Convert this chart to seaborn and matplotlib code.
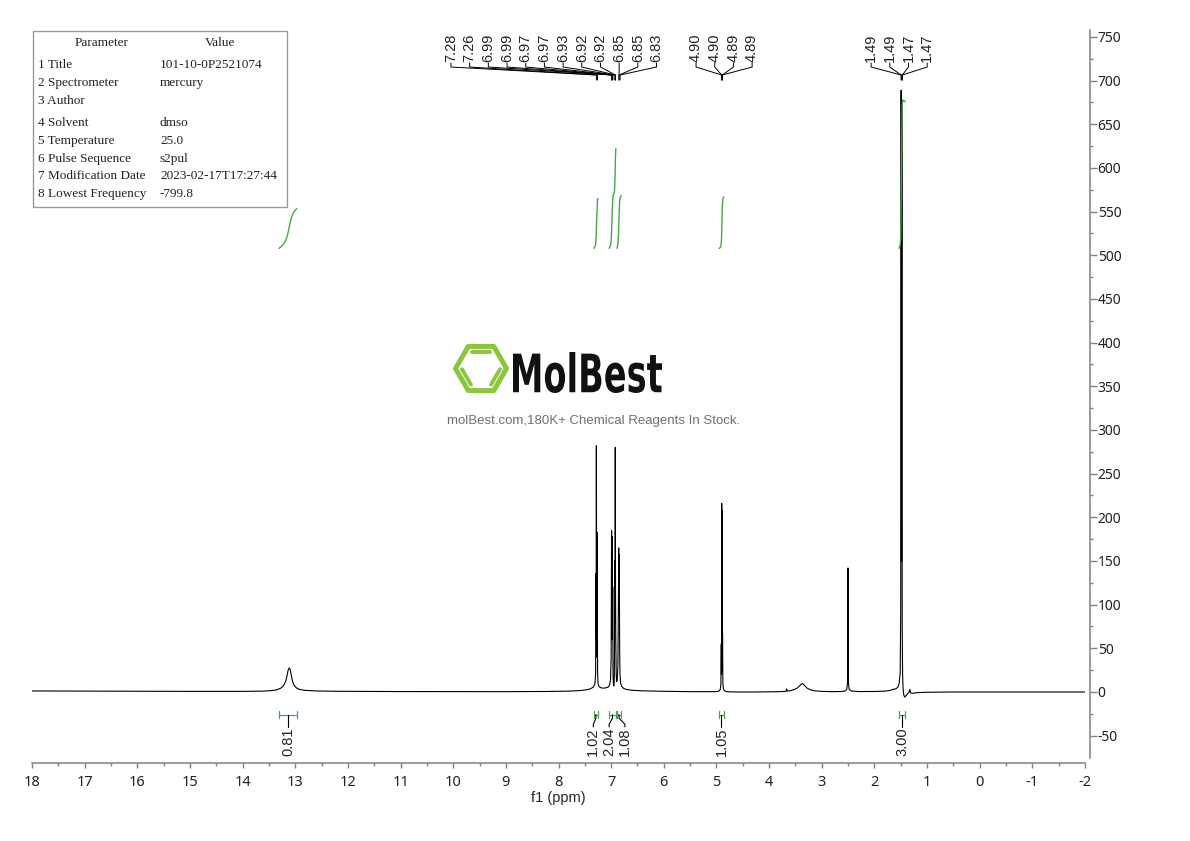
import numpy as np
import matplotlib
matplotlib.use('Agg')
import matplotlib.pyplot as plt
import seaborn as sns
from matplotlib.patches import RegularPolygon, Rectangle, PathPatch
from matplotlib.textpath import TextPath
from matplotlib.font_manager import FontProperties
from matplotlib.transforms import Affine2D

# spectrum trace (ppm, intensity)
trace_ppm = [18.0, 17.0, 16.0, 15.0, 14.0, 13.6, 13.45, 13.35, 13.27, 13.22,
             13.18, 13.155, 13.135, 13.115, 13.095, 13.075, 13.05, 13.02, 12.98, 12.92,
             12.82, 12.6, 12.2, 11.0, 10.0, 9.0, 8.2, 7.8, 7.6, 7.48, 7.40, 7.34, 7.31,
             7.295, 7.289, 7.285, 7.281, 7.274, 7.266, 7.258, 7.25, 7.23, 7.18, 7.12, 7.06, 7.03, 7.012,
             7.000, 6.992, 6.986, 6.981, 6.976, 6.970, 6.964, 6.956, 6.948, 6.942,
             6.937, 6.932, 6.927, 6.922, 6.917, 6.912, 6.904, 6.895, 6.885,
             6.872, 6.862, 6.856, 6.850, 6.845, 6.839, 6.832, 6.82, 6.80, 6.76,
             6.70, 6.60, 6.40, 6.0, 5.5, 5.1, 5.0, 4.96, 4.93,
             4.916, 4.908, 4.904, 4.900, 4.896, 4.892, 4.888, 4.884, 4.878, 4.865,
             4.84, 4.80, 4.6, 4.3, 4.0, 3.85,
             3.68, 3.665, 3.655, 3.60, 3.52, 3.46, 3.42, 3.39, 3.37, 3.35,
             3.32, 3.28, 3.22, 3.14, 3.0, 2.8, 2.62, 2.56, 2.525, 2.508,
             2.502, 2.496, 2.48, 2.44, 2.3, 2.0, 1.8, 1.70, 1.66, 1.64,
             1.62, 1.58, 1.55, 1.53, 1.51,
             1.500, 1.492, 1.485, 1.478, 1.472, 1.465, 1.455, 1.44, 1.42, 1.40,
             1.37, 1.34, 1.325, 1.31, 1.28, 1.2, 1.0, 0.5, 0.0, -1.0, -2.0]
trace_int = [1.2, 1.0, 0.8, 0.7, 0.7, 1.0, 1.6, 2.5, 4.5, 7.5,
             12.5, 19, 25, 27.5, 25.5, 19, 12, 7.5, 4.8, 3.0,
             1.9, 1.2, 0.8, 0.5, 0.4, 0.4, 0.6, 1.0, 1.6, 2.4, 3.5, 5.5, 9,
             20, 136, 60, 282, 40, 183, 25, 10, 6, 4.5, 4.5, 5.5, 8, 14,
             40, 185, 90, 178, 60, 120, 20, 8, 7, 12,
             40, 150, 120, 280, 120, 60, 20, 12, 14,
             30, 100, 165, 90, 157, 50, 20, 10, 6.5, 4,
             2.8, 2.0, 1.3, 0.8, 0.4, 0.3, 0.4, 0.8, 2.5,
             8, 55, 20, 216, 40, 208, 25, 67, 10, 3,
             1.2, 0.3, 0.0, 0.0, 0.2, 0.3,
             0.8, 3.5, 1.0, 1.5, 2.8, 4.8, 7.2, 9.0, 9.6, 9.0,
             7.0, 4.5, 2.6, 1.4, 0.7, 0.4, 0.6, 1.2, 3, 12,
             142, 12, 3, 1.2, 0.5, 0.6, 1.0, 1.8, 2.8, 3.3,
             3.0, 4.2, 6, 10, 22,
             92, 689, 150, 678, 80, 20, 4, -4, -6, -4,
             -2, 0, 3, -1, -1.5, -0.8, -0.3, 0.0, 0.0, 0.0, 0.0]

# peak picking labels, one list per multiplet
peaks_arom = [7.28, 7.26, 6.99, 6.99, 6.97, 6.97, 6.93, 6.92, 6.92, 6.85, 6.85, 6.83]
peaks_ch = [4.90, 4.90, 4.89, 4.89]
peaks_me = [1.49, 1.49, 1.47, 1.47]

# integrals
integral_start = [13.31, 7.33, 7.04, 6.89, 4.95, 1.53]
integral_end = [12.97, 7.25, 6.91, 6.81, 4.86, 1.42]
integral_value = [0.81, 1.02, 2.04, 1.08, 1.05, 3.00]

param_names = ['1 Title', '2 Spectrometer', '3 Author', '4 Solvent', '5 Temperature',
               '6 Pulse Sequence', '7 Modification Date', '8 Lowest Frequency']
param_values = ['101-10-0P2521074', 'mercury', '', 'dmso', '25.0', 's2pul',
                '2023-02-17T17:27:44', '-799.8']

x_ticks = list(range(18, -3, -1))
y_ticks = list(range(-50, 751, 50))

sns.set_style('ticks')
plt.rcParams['font.family'] = ['Noto Sans', 'DejaVu Sans']
plt.rcParams['axes.unicode_minus'] = False

GRAY = '#808080'
GREEN = '#4aa64a'

fig = plt.figure(figsize=(11.9, 8.41), dpi=100)
ax = fig.add_axes([32 / 1190, 78 / 841, 1053 / 1190, 733 / 841])

sns.lineplot(x=trace_ppm, y=trace_int, ax=ax, color='black', lw=0.8,
             sort=False, estimator=None)

ax.set_xlim(18, -2)
ax.set_ylim(-81.3, 758)

for s in ['top', 'left']:
    ax.spines[s].set_visible(False)
for s in ['right', 'bottom']:
    ax.spines[s].set_color(GRAY)
    ax.spines[s].set_linewidth(1.1)
ax.spines['right'].set_position(('outward', 3.6))
ax.spines['right'].set_bounds(-76, 758)

ax.yaxis.tick_right()
ax.set_xticks(x_ticks)
ax.set_xticklabels([str(t) for t in x_ticks])
ax.set_xticks(np.arange(17.5, -2, -1), minor=True)
ax.set_yticks(y_ticks)
ax.set_yticklabels([str(t) for t in y_ticks])
ax.set_yticks(np.arange(-25, 760, 50), minor=True)
ax.tick_params(axis='x', which='major', length=3.6, width=1, color=GRAY,
               labelsize=10.5, pad=5, labelcolor='#222222')
ax.tick_params(axis='x', which='minor', length=2.2, width=1, color=GRAY)
ax.tick_params(axis='y', which='major', length=5, width=1, color=GRAY,
               labelsize=10, pad=0.5, labelcolor='#222222', left=False, right=True)
ax.tick_params(axis='y', which='minor', length=2.5, width=1, color=GRAY,
               left=False, right=True)
ax.set_xlabel('f1 (ppm)', fontsize=10.5, labelpad=1, family=['Liberation Sans'])
ax.set_ylabel('')

# integral curves, brackets and values
rev_ppm = np.array(trace_ppm[::-1])
rev_int = np.array(trace_int[::-1])
base, per_unit = 508, 56
centers = [(s + e) / 2 for s, e in zip(integral_start, integral_end)]
label_pos = list(centers)
i = 0
while i < len(centers):
    j = i
    while j + 1 < len(centers) and centers[j] - centers[j + 1] < 0.35:
        j += 1
    n = j - i + 1
    if n > 1:
        m = np.mean(centers[i:j + 1])
        for k in range(n):
            label_pos[i + k] = m + ((n - 1) / 2 - k) * 0.3
    i = j + 1

for s, e, v, c, lp in zip(integral_start, integral_end, integral_value, centers, label_pos):
    pp = np.array(trace_ppm)
    mask = (pp < s) & (pp > e)
    xs = np.concatenate([[s], pp[mask], [e]])
    ys = np.interp(xs, rev_ppm, rev_int)
    cum = np.concatenate([[0], np.cumsum(0.5 * (ys[1:] + ys[:-1]) * np.abs(np.diff(xs)))])
    curve = base + cum / cum[-1] * v * per_unit
    sns.lineplot(x=xs, y=curve, ax=ax, color=GREEN, lw=1.0, sort=False, estimator=None)
    ax.plot([s, e], [-26, -26], color=GREEN, lw=0.9)
    ax.plot([s, s], [-30, -22], color=GREEN, lw=0.9)
    ax.plot([e, e], [-30, -22], color=GREEN, lw=0.9)
    if abs(lp - c) < 1e-6:
        ax.plot([c, c], [-26, -40], color='black', lw=0.8)
    else:
        ax.plot([c, c, lp, lp], [-26, -30, -37, -40], color='black', lw=0.8)
    ax.text(lp, -41, f'{v:.2f}', rotation=90, ha='center', va='top',
            fontsize=10.5, family=['Liberation Sans'], color='#222222')

# peak labels on top
tr = ax.get_xaxis_transform()
label_shift = [1.11, -0.04, 0.05]
for grp, shift in zip([peaks_arom, peaks_ch, peaks_me], label_shift):
    n = len(grp)
    mid = np.mean(grp) + shift
    for k, pk in enumerate(grp):
        lp = mid + ((n - 1) / 2 - k) * 0.355
        ax.text(lp, 0.957, f'{pk:.2f}', transform=tr, rotation=90, ha='center',
                va='bottom', fontsize=10.5, family=['Liberation Sans'], color='#222222')
        ax.plot([lp, lp, pk, pk], [0.955, 0.9495, 0.9386, 0.9318], transform=tr,
                color='black', lw=0.7, clip_on=False)

# overlay in pixel coords for table and watermark
ov = fig.add_axes([0, 0, 1, 1])
ov.set_xlim(0, 1190)
ov.set_ylim(841, 0)
ov.axis('off')
ov.patch.set_alpha(0)

ov.add_patch(Rectangle((33, 31), 254, 176, fill=False, ec='#9a9a9a', lw=1))
ov.text(102, 43, 'Parameter', ha='center', va='center', family='Liberation Serif',
        fontsize=9.5, color='#222222')
ov.text(220, 43, 'Value', ha='center', va='center', family='Liberation Serif',
        fontsize=9.5, color='#222222')
row_y = [65, 83, 101, 123, 141, 159, 176, 194]
for y, nm, val in zip(row_y, param_names, param_values):
    ov.text(38, y, nm, ha='left', va='center', family='Liberation Serif',
            fontsize=9.5, color='#222222')
    ov.text(160, y, val, ha='left', va='center', family='Liberation Serif',
            fontsize=9.5, color='#222222')

# watermark logo
LOGO = '#8cc63f'
cx, cy, r = 481, 368.5, 25.5
ov.add_patch(RegularPolygon((cx, cy), 6, radius=r, orientation=np.pi / 6,
                            fill=False, ec=LOGO, lw=3.6, joinstyle='round'))
ang = np.deg2rad([0, 60, 120, 180, 240, 300])
vx = cx + r * np.cos(ang)
vy = cy - r * np.sin(ang)
for a, b in [(1, 2), (3, 4), (5, 0)]:
    p1 = np.array([vx[a], vy[a]])
    p2 = np.array([vx[b], vy[b]])
    q1 = np.array([cx, cy]) + 0.76 * (p1 - np.array([cx, cy]))
    q2 = np.array([cx, cy]) + 0.76 * (p2 - np.array([cx, cy]))
    d = q2 - q1
    q1, q2 = q1 + 0.04 * d, q2 - 0.04 * d
    ov.plot([q1[0], q2[0]], [q1[1], q2[1]], color=LOGO, lw=2.8, solid_capstyle='round')

tp = TextPath((0, 0), 'MolBest', size=100, prop=FontProperties(family='DejaVu Sans', weight='bold'))
bb = tp.get_extents()
sx = (662 - 513) / bb.width
sy = (393 - 352) / bb.height
tf = Affine2D().translate(-bb.x0, -bb.y0).scale(sx, -sy).translate(513, 393)
ov.add_patch(PathPatch(tf.transform_path(tp), fc='#111111', ec='none'))
ov.text(594, 421, 'molBest.com,180K+ Chemical Reagents In Stock.', ha='center', va='center',
        fontsize=9.5, color='#707070', family='Liberation Sans')

fig.savefig('out.png', dpi=100)
